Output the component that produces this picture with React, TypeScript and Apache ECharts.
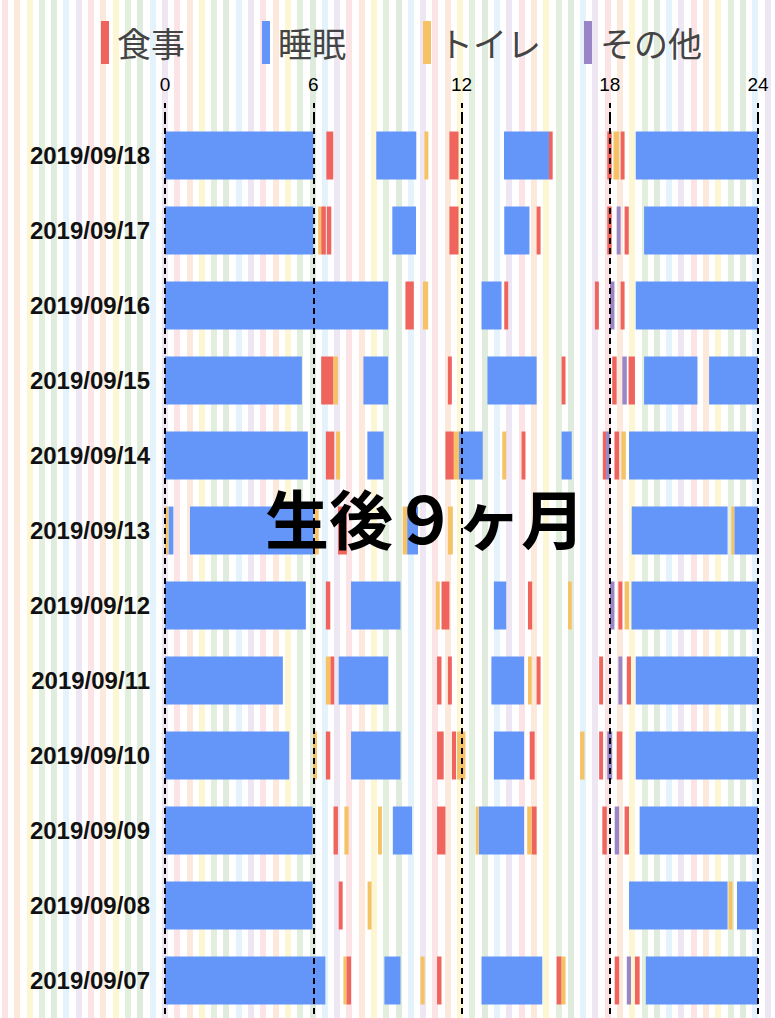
import { useEffect, useRef } from 'react'
import * as echarts from 'echarts'

// 日付（上から）
const dates = [
  '2019/09/18', '2019/09/17', '2019/09/16', '2019/09/15', '2019/09/14', '2019/09/13',
  '2019/09/12', '2019/09/11', '2019/09/10', '2019/09/09', '2019/09/08', '2019/09/07',
]
const hourTicks = [0, 6, 12, 18, 24]
const legendNames = ['食事', '睡眠', 'トイレ', 'その他']
const title = '生後９ヶ月'

// [行, 開始時刻, 終了時刻]
const sleeps = [
  [0, 0, 6.0], [0, 8.55, 10.17], [0, 13.72, 15.54], [0, 19.05, 24],
  [1, 0, 6.0], [1, 9.2, 10.16], [1, 13.73, 14.75], [1, 19.39, 24],
  [2, 0, 9.03], [2, 12.81, 13.62], [2, 19.05, 24],
  [3, 0, 5.54], [3, 8.03, 9.03], [3, 13.05, 15.04], [3, 19.39, 21.55], [3, 22.02, 24],
  [4, 0, 5.78], [4, 8.19, 8.85], [4, 11.9, 12.86], [4, 16.05, 16.46], [4, 18.78, 24],
  [5, 0.14, 0.34], [5, 1.01, 6.0], [5, 9.8, 10.24], [5, 18.89, 22.77], [5, 23.04, 24],
  [6, 0, 5.7], [6, 7.53, 9.53], [6, 13.31, 13.81], [6, 18.88, 24],
  [7, 0, 4.77], [7, 7.03, 9.03], [7, 13.21, 14.53], [7, 19.05, 24],
  [8, 0, 5.03], [8, 7.53, 9.53], [8, 13.31, 14.53], [8, 19.05, 24],
  [9, 0, 5.97], [9, 9.22, 10.0], [9, 12.7, 14.53], [9, 19.21, 24],
  [10, 0, 5.97], [10, 18.78, 22.77], [10, 23.15, 24],
  [11, 0, 6.49], [11, 8.88, 9.53], [11, 12.81, 15.27], [11, 19.46, 24],
]

const meals = [
  [0, 6.53, 6.81], [0, 11.51, 11.88], [0, 15.54, 15.69], [0, 17.9, 18.08], [0, 18.44, 18.6],
  [1, 6.32, 6.51], [1, 6.55, 6.73], [1, 11.51, 11.88], [1, 15.04, 15.2], [1, 17.9, 18.08], [1, 18.6, 18.77],
  [2, 9.73, 10.07], [2, 13.73, 13.89], [2, 17.4, 17.56], [2, 18.44, 18.6],
  [3, 6.32, 6.82], [3, 11.45, 11.61], [3, 16.05, 16.21], [3, 18.1, 18.28], [3, 18.76, 19.02],
  [4, 6.51, 6.85], [4, 11.35, 11.69], [4, 14.43, 14.59], [4, 17.72, 17.85], [4, 18.19, 18.38],
  [5, 7.0, 7.36],
  [6, 6.51, 6.69], [6, 11.19, 11.51], [6, 14.69, 14.86], [6, 18.35, 18.51],
  [7, 6.69, 6.85], [7, 11.01, 11.19], [7, 11.45, 11.61], [7, 15.04, 15.2], [7, 17.57, 17.73], [7, 18.69, 18.86],
  [8, 6.51, 6.69], [8, 11.01, 11.28], [8, 11.61, 11.78], [8, 14.76, 14.96], [8, 17.57, 17.73], [8, 18.28, 18.51],
  [9, 6.82, 7.0], [9, 11.01, 11.35], [9, 14.84, 15.04], [9, 17.7, 17.88], [9, 18.6, 18.78],
  [10, 7.03, 7.19],
  [11, 7.34, 7.53], [11, 11.01, 11.19], [11, 15.85, 16.05], [11, 18.2, 18.38], [11, 19.02, 19.21],
]

const toilets = [
  [0, 10.5, 10.66], [0, 18.15, 18.38],
  [1, 6.2, 6.32],
  [2, 10.44, 10.65],
  [3, 6.82, 7.0],
  [4, 6.92, 7.09], [4, 11.69, 11.9], [4, 13.65, 13.81], [4, 18.47, 18.65],
  [5, 0, 0.14], [5, 6.05, 6.22], [5, 9.62, 9.8], [5, 11.45, 11.65], [5, 22.92, 23.04],
  [6, 10.96, 11.12], [6, 16.31, 16.46], [6, 18.6, 18.78],
  [7, 6.51, 6.69], [7, 14.69, 14.84],
  [8, 5.99, 6.15], [8, 11.82, 12.16], [8, 16.8, 16.98],
  [9, 7.26, 7.43], [9, 8.62, 8.78], [9, 12.57, 12.7], [9, 14.66, 14.84],
  [10, 8.2, 8.36], [10, 22.81, 22.97],
  [11, 7.22, 7.34], [11, 10.34, 10.51], [11, 16.05, 16.21],
]

const others = [
  [1, 18.28, 18.44],
  [2, 18.01, 18.19],
  [3, 18.51, 18.69],
  [4, 17.85, 18.0],
  [6, 18.01, 18.19],
  [7, 18.35, 18.51],
  [8, 17.9, 18.1],
  [9, 18.2, 18.38],
  [11, 18.69, 18.86],
]

const colors = ['#F0645E', '#6495F9', '#F5C266', '#9A85C6']

// 背景のストライプ
const stripeColors = ['#fbe3e6', '#fce9dc', '#fdf6d3', '#e3efdd', '#dfecdd', '#e3f2fb', '#eee6f3']
const stripeStep = 12.3
const stripeBg = `repeating-linear-gradient(to right, ${stripeColors
  .map((c, i) => `${c} ${(i * stripeStep).toFixed(1)}px ${(i * stripeStep + 6).toFixed(1)}px, #ffffff ${(i * stripeStep + 6).toFixed(1)}px ${((i + 1) * stripeStep).toFixed(1)}px`)
  .join(', ')})`

const renderBar = (params: any, api: any) => {
  const row = api.value(0)
  const start = api.coord([api.value(1), row])
  const end = api.coord([api.value(2), row])
  const h = api.size([0, 1])[1] * 0.64
  const shape = echarts.graphic.clipRectByRect(
    { x: start[0], y: start[1] - h / 2, width: end[0] - start[0], height: h },
    { x: params.coordSys.x, y: params.coordSys.y, width: params.coordSys.width, height: params.coordSys.height },
  )
  return shape && { type: 'rect', shape, style: api.style() }
}

const makeSeries = (name: string, color: string, data: number[][]) => ({
  name,
  type: 'custom',
  renderItem: renderBar,
  data,
  encode: { x: [1, 2], y: 0 },
  itemStyle: { color },
})

export default function App() {
  const chartRef = useRef<HTMLDivElement>(null)

  useEffect(() => {
    document.body.style.margin = '0'
    if (!chartRef.current) return
    const chart = echarts.init(chartRef.current, undefined, { renderer: 'svg' })

    const dash = { color: '#000', width: 2, type: [6, 4] }

    const option: any = {
      animation: false,
      backgroundColor: 'transparent',
      // 凡例は等間隔に並べる
      legend: legendNames.map((name, i) => ({
        data: [name],
        left: 96 + i * 161,
        top: 16,
        icon: 'rect',
        itemWidth: 8,
        itemHeight: 43,
        selectedMode: false,
        textStyle: { fontSize: 34, color: '#444', fontFamily: 'Noto Sans CJK JP', padding: [0, 0, 0, 3] },
      })),
      grid: { left: 165, right: 17, top: 118, bottom: 0, outerBoundsMode: 'none' },
      xAxis: {
        type: 'value',
        position: 'top',
        min: hourTicks[0],
        max: hourTicks[hourTicks.length - 1],
        interval: 6,
        z: 10,
        axisLine: { show: false },
        axisTick: { show: true, length: 15, lineStyle: dash },
        axisLabel: { color: '#000', fontSize: 19, margin: 24, fontFamily: 'Liberation Sans, Arial, sans-serif' },
        splitLine: { show: true, lineStyle: dash },
      },
      yAxis: {
        type: 'category',
        data: dates,
        inverse: true,
        axisLine: { show: false },
        axisTick: { show: false },
        splitLine: { show: false },
        axisLabel: {
          color: '#111',
          fontSize: 24,
          fontWeight: 'bold',
          margin: 15,
          fontFamily: 'Liberation Sans, Arial, sans-serif',
        },
      },
      graphic: [
        {
          type: 'text',
          x: 425,
          y: 516,
          z: 100,
          style: {
            text: title,
            fill: '#000',
            fontSize: 64,
            fontWeight: 'bold',
            fontFamily: 'Noto Sans CJK JP',
            align: 'center',
            verticalAlign: 'middle',
            textAlign: 'center',
            textVerticalAlign: 'middle',
          },
        },
      ],
      series: [
        makeSeries(legendNames[0], colors[0], meals),
        makeSeries(legendNames[1], colors[1], sleeps),
        makeSeries(legendNames[2], colors[2], toilets),
        makeSeries(legendNames[3], colors[3], others),
      ],
    }

    chart.setOption(option)
    return () => chart.dispose()
  }, [])

  return (
    <div style={{ width: 775, height: 1018, background: stripeBg, backgroundPosition: '2px 0' }}>
      <div ref={chartRef} style={{ width: 775, height: 1018 }} />
    </div>
  )
}
